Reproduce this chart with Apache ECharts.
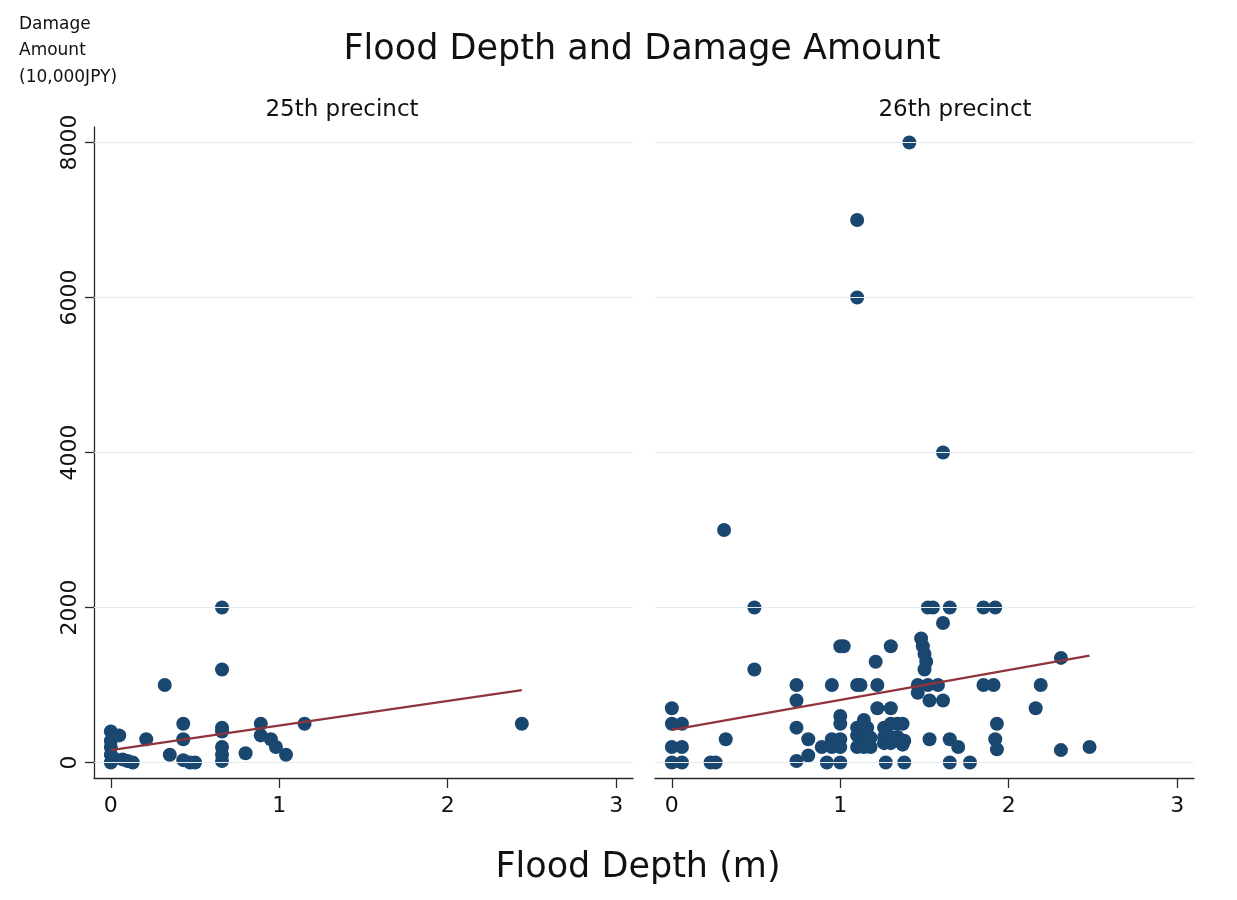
<!DOCTYPE html>
<html><head><meta charset="utf-8">
<script src="https://cdn.jsdelivr.net/npm/echarts@6/dist/echarts.min.js"></script>
<style>html,body{margin:0;padding:0;background:#fff}#c{width:1237px;height:900px}</style>
</head><body><div id="c"></div><script>
// ---- data ----
const chartTitle = 'Flood Depth and Damage Amount';
const panelTitles = ['25th precinct', '26th precinct'];
const xAxisTitle = 'Flood Depth (m)';
const yAxisTitle = 'Damage\nAmount\n(10,000JPY)';
const xTicks = [0, 1, 2, 3];
const yTicks = [0, 2000, 4000, 6000, 8000];

const depth25  = [0, 0, 0, 0, 0, 0.02, 0.05, 0.07, 0.1, 0.13, 0.21, 0.32, 0.35, 0.43, 0.43, 0.43, 0.47, 0.5,
                  0.66, 0.66, 0.66, 0.66, 0.66, 0.66, 0.66, 0.8, 0.89, 0.89, 0.95, 0.98, 1.04, 1.15, 2.44];
const damage25 = [400, 280, 200, 100, 0, 50, 350, 40, 20, 0, 300, 1000, 100, 500, 300, 30, 0, 0,
                  2000, 1200, 450, 400, 200, 100, 20, 120, 500, 350, 300, 200, 100, 500, 500];

const depth26  = [0, 0, 0.06, 0, 0.06, 0, 0.06, 0.23, 0.26, 0.32, 0.31, 0.49, 0.49,
                  0.74, 0.74, 0.74, 0.74, 0.81, 0.81, 0.89, 0.92, 0.95, 0.95, 0.95, 1.0, 1.0, 1.0, 1.0, 1.0, 1.0, 1.02,
                  1.1, 1.1, 1.1, 1.12, 1.1, 1.1, 1.1, 1.14, 1.16, 1.14, 1.14, 1.18, 1.18, 1.21, 1.22, 1.22, 1.26, 1.26, 1.26, 1.27,
                  1.3, 1.3, 1.3, 1.3, 1.3, 1.34, 1.34, 1.37, 1.37, 1.38, 1.38,
                  1.41, 1.46, 1.46, 1.48, 1.49, 1.5, 1.51, 1.5, 1.52, 1.58, 1.53, 1.61, 1.53, 1.52, 1.55, 1.61, 1.61,
                  1.65, 1.65, 1.65, 1.7, 1.77, 1.85, 1.92, 1.85, 1.91, 1.93, 1.92, 1.93, 2.16, 2.19, 2.31, 2.31, 2.48];
const damage26 = [700, 500, 500, 200, 200, 0, 0, 0, 0, 300, 3000, 2000, 1200,
                  1000, 800, 450, 20, 300, 90, 200, 0, 1000, 300, 200, 0, 300, 200, 600, 500, 1500, 1500,
                  7000, 6000, 1000, 1000, 450, 350, 200, 550, 450, 300, 200, 320, 200, 1300, 1000, 700, 450, 330, 250, 0,
                  1500, 700, 500, 330, 250, 500, 330, 500, 230, 0, 280,
                  8000, 1000, 900, 1600, 1500, 1400, 1300, 1200, 1000, 1000, 800, 800, 300, 2000, 2000, 1800, 4000,
                  2000, 300, 0, 200, 0, 2000, 2000, 1000, 1000, 500, 300, 170, 700, 1000, 1350, 160, 200];

const fit25X = [0, 2.44];
const fit25Y = [160, 935];
const fit26X = [0, 2.48];
const fit26Y = [420, 1380];

// ---- build ----
const zip = (a, b) => a.map((v, i) => [v, b[i]]);
const FONT = 'DejaVu Sans';
const navy = '#1a476f', maroon = '#90353b', axisCol = '#2a2a2a';

function xAxisCfg(i) {
  return {
    gridIndex: i, type: 'value', min: -0.1, max: 3.1,
    axisLine: { show: true, onZero: false, lineStyle: { color: axisCol, width: 1.3 } },
    axisTick: { show: true, customValues: xTicks, length: 10, lineStyle: { color: axisCol, width: 1.3 } },
    axisLabel: { show: true, customValues: xTicks, fontSize: 22, fontFamily: FONT, color: '#111', margin: 17,
      formatter: v => String(v) },
    splitLine: { show: false }
  };
}
function yAxisCfg(i) {
  const left = i === 0;
  return {
    gridIndex: i, type: 'value', min: -200, max: 8200,
    axisLine: { show: left, onZero: false, lineStyle: { color: axisCol, width: 1.3 } },
    axisTick: { show: left, customValues: yTicks, length: 9, lineStyle: { color: axisCol, width: 1.3 } },
    axisLabel: { show: left, customValues: yTicks, rotate: 90, fontSize: 22, fontFamily: FONT, color: '#111', margin: 13,
      formatter: v => String(v) },
    splitLine: { show: false }
  };
}
const gridLines = {
  silent: true, symbol: 'none', label: { show: false },
  lineStyle: { color: '#e6ebef', width: 1.2, type: 'solid' },
  emphasis: { disabled: true },
  data: yTicks.map(v => ({ yAxis: v }))
};
function panelSeries(i, xs, ys, fx, fy) {
  return [
    { type: 'line', xAxisIndex: i, yAxisIndex: i, data: [], z: 1, markLine: gridLines, silent: true },
    { type: 'scatter', xAxisIndex: i, yAxisIndex: i, data: zip(xs, ys), symbolSize: 14,
      itemStyle: { color: navy, opacity: 1 }, z: 3 },
    { type: 'line', xAxisIndex: i, yAxisIndex: i, data: zip(fx, fy), showSymbol: false, symbol: 'none',
      lineStyle: { color: maroon, width: 2.2 }, z: 4, silent: true }
  ];
}

const option = {
  backgroundColor: '#ffffff',
  animation: false,
  grid: [
    { left: 94, top: 127, width: 539, height: 651 },
    { left: 655, top: 127, width: 539, height: 651 }
  ],
  xAxis: [xAxisCfg(0), xAxisCfg(1)],
  yAxis: [yAxisCfg(0), yAxisCfg(1)],
  series: [
    ...panelSeries(0, depth25, damage25, fit25X, fit25Y),
    ...panelSeries(1, depth26, damage26, fit26X, fit26Y)
  ],
  graphic: [
    { type: 'text', x: 642, y: 50, style: { text: chartTitle, textAlign: 'center', textVerticalAlign: 'middle',
      fontSize: 35, fontFamily: FONT, fill: '#111' } },
    { type: 'text', x: 342, y: 110, style: { text: panelTitles[0], textAlign: 'center', textVerticalAlign: 'middle',
      fontSize: 23, fontFamily: FONT, fill: '#111' } },
    { type: 'text', x: 955, y: 110, style: { text: panelTitles[1], textAlign: 'center', textVerticalAlign: 'middle',
      fontSize: 23, fontFamily: FONT, fill: '#111' } },
    { type: 'text', x: 638, y: 868, style: { text: xAxisTitle, textAlign: 'center', textVerticalAlign: 'middle',
      fontSize: 35, fontFamily: FONT, fill: '#111' } },
    { type: 'text', x: 19, y: 11, style: { text: yAxisTitle, textAlign: 'left', textVerticalAlign: 'top',
      fontSize: 17, lineHeight: 26.5, fontFamily: FONT, fill: '#111' } }
  ]
};
echarts.init(document.getElementById('c'), null, { renderer: 'canvas' }).setOption(option);
</script></body></html>
